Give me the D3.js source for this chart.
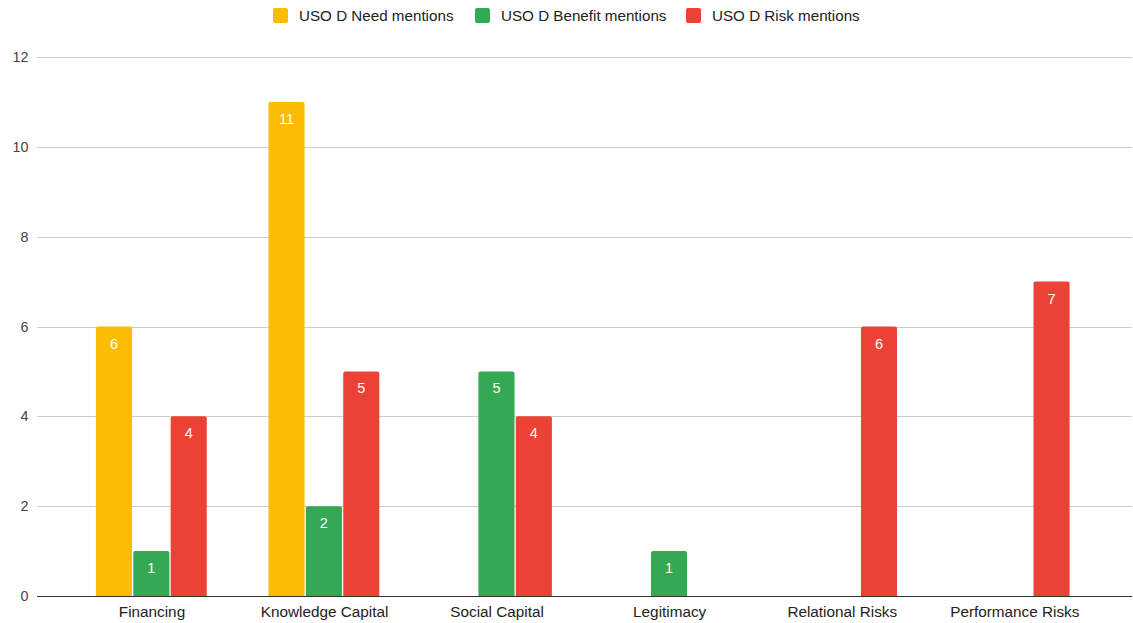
<!DOCTYPE html>
<html>
<head>
<meta charset="utf-8">
<script src="https://cdn.jsdelivr.net/npm/d3@7"></script>
<style>
  html, body { margin: 0; padding: 0; background: #fff; }
  svg { display: block; font-family: "Liberation Sans", Arial, sans-serif; }
</style>
</head>
<body>
<svg id="chart" width="1133" height="623"></svg>
<script>
// Topic categories along the x axis
const categories = ["Financing", "Knowledge Capital", "Social Capital", "Legitimacy", "Relational Risks", "Performance Risks"];
// Series names and mention counts (null = no bar)
const seriesNames = ["USO D Need mentions", "USO D Benefit mentions", "USO D Risk mentions"];
const needMentions = [6, 11, null, null, null, null];
const benefitMentions = [1, 2, 5, 1, null, null];
const riskMentions = [4, 5, 4, null, 6, 7];
const yTicks = [0, 2, 4, 6, 8, 10, 12];
const colors = ["#fbbc04", "#34a853", "#ea4335"];

const seriesValues = [needMentions, benefitMentions, riskMentions];

const svg = d3.select("#chart");

const plot = { left: 37, right: 1132, top: 57, bottom: 596 };

const y = d3.scaleLinear().domain([0, 12]).range([plot.bottom, plot.top]);

const x = d3.scaleBand()
  .domain(categories)
  .range([65.7, 1101.1])
  .paddingInner(0.35)
  .paddingOuter(0.175);

const xs = d3.scaleBand()
  .domain(d3.range(seriesNames.length))
  .range([0, x.bandwidth()])
  .padding(0);

// Horizontal gridlines
svg.append("g")
  .selectAll("line")
  .data(yTicks.filter(t => t !== 0))
  .join("line")
  .attr("x1", plot.left).attr("x2", plot.right)
  .attr("y1", d => Math.round(y(d)) + 0.5).attr("y2", d => Math.round(y(d)) + 0.5)
  .attr("stroke", "#cccccc").attr("stroke-width", 1);

// Y tick labels
svg.append("g")
  .selectAll("text")
  .data(yTicks)
  .join("text")
  .attr("x", 28.5)
  .attr("y", d => y(d))
  .attr("dy", "0.35em")
  .attr("text-anchor", "end")
  .attr("font-size", 14.3)
  .attr("fill", "#444")
  .text(d => d);

// Bars
const gap = 1.3;
const radius = 2;
function topRoundedRect(x0, y0, w, h, r) {
  return `M${x0},${y0 + h}V${y0 + r}Q${x0},${y0} ${x0 + r},${y0}H${x0 + w - r}Q${x0 + w},${y0} ${x0 + w},${y0 + r}V${y0 + h}Z`;
}

const barData = [];
seriesValues.forEach((vals, si) => {
  vals.forEach((v, ci) => {
    if (v !== null) barData.push({ cat: categories[ci], s: si, v });
  });
});

const bars = svg.append("g");
bars.selectAll("path")
  .data(barData)
  .join("path")
  .attr("d", d => {
    const bx = x(d.cat) + xs(d.s);
    const w = xs.bandwidth() - gap;
    const top = y(d.v);
    return topRoundedRect(bx, top, w, y(0) - top, radius);
  })
  .attr("fill", d => colors[d.s]);

// Value labels inside bar tops
bars.selectAll("text")
  .data(barData)
  .join("text")
  .attr("x", d => x(d.cat) + xs(d.s) + (xs.bandwidth() - gap) / 2)
  .attr("y", d => y(d.v) + 22)
  .attr("text-anchor", "middle")
  .attr("font-size", 14.5)
  .attr("fill", "#ffffff")
  .text(d => d.v);

// Baseline
svg.append("line")
  .attr("x1", plot.left).attr("x2", plot.right)
  .attr("y1", plot.bottom + 0.5).attr("y2", plot.bottom + 0.5)
  .attr("stroke", "#333").attr("stroke-width", 1);

// X category labels
svg.append("g")
  .selectAll("text")
  .data(categories)
  .join("text")
  .attr("x", d => x(d) + x.bandwidth() / 2)
  .attr("y", 616.5)
  .attr("text-anchor", "middle")
  .attr("font-size", 15.3)
  .attr("fill", "#222")
  .text(d => d);

// Legend
const legendX = [273, 475, 686];
const legend = svg.append("g");
seriesNames.forEach((name, i) => {
  legend.append("rect")
    .attr("x", legendX[i]).attr("y", 8)
    .attr("width", 15).attr("height", 15)
    .attr("rx", 2)
    .attr("fill", colors[i]);
  legend.append("text")
    .attr("x", legendX[i] + 26).attr("y", 20.5)
    .attr("font-size", 15.2)
    .attr("fill", "#222")
    .text(name);
});
</script>
</body>
</html>
